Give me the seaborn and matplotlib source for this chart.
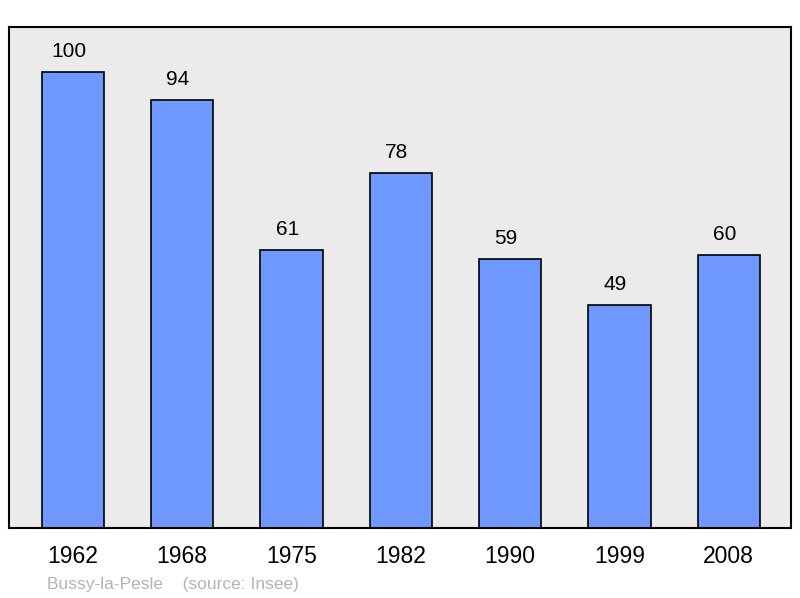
import matplotlib
matplotlib.use("Agg")
import matplotlib.pyplot as plt
import seaborn as sns
import pandas as pd

years = ["1962", "1968", "1975", "1982", "1990", "1999", "2008"]
population = [100, 94, 61, 78, 59, 49, 60]

df = pd.DataFrame({"year": years, "pop": population})

sns.set_style("white")
plt.rcParams["font.family"] = ["Liberation Sans", "DejaVu Sans"]
plt.rcParams["text.color"] = "black"
plt.rcParams["xtick.color"] = "black"

fig = plt.figure(figsize=(8, 5.98), dpi=100)
ax = fig.add_axes([0.01125, 0.117, 0.9775, 0.838])
ax.set_facecolor("#ebebeb")

sns.barplot(data=df, x="year", y="pop", color="#7099ff", width=0.57,
            edgecolor="black", linewidth=1.2, saturation=1, ax=ax)

# value labels sit a little left of the bar centre in the original
for p, v in zip(ax.patches, population):
    ax.annotate(str(v), (p.get_x() + p.get_width() / 2, p.get_height()),
                xytext=(-3, 8), textcoords="offset points",
                ha="center", va="bottom", fontsize=15, color="black")

ax.set_ylim(0, 110)
ax.set_xlim(-0.585, 6.57)
ax.set_yticks([])
ax.set_xlabel("")
ax.set_ylabel("")
ax.tick_params(axis="x", length=0, labelsize=16.5, pad=12, labelcolor="black")
for s in ax.spines.values():
    s.set_color("black")
    s.set_linewidth(1.5)

fig.text(173 / 800, 1 - 584 / 598, "Bussy-la-Pesle    (source: Insee)",
         ha="center", va="center", fontsize=12.5, color="#b4b4b4")

fig.savefig("out.png", dpi=100)
